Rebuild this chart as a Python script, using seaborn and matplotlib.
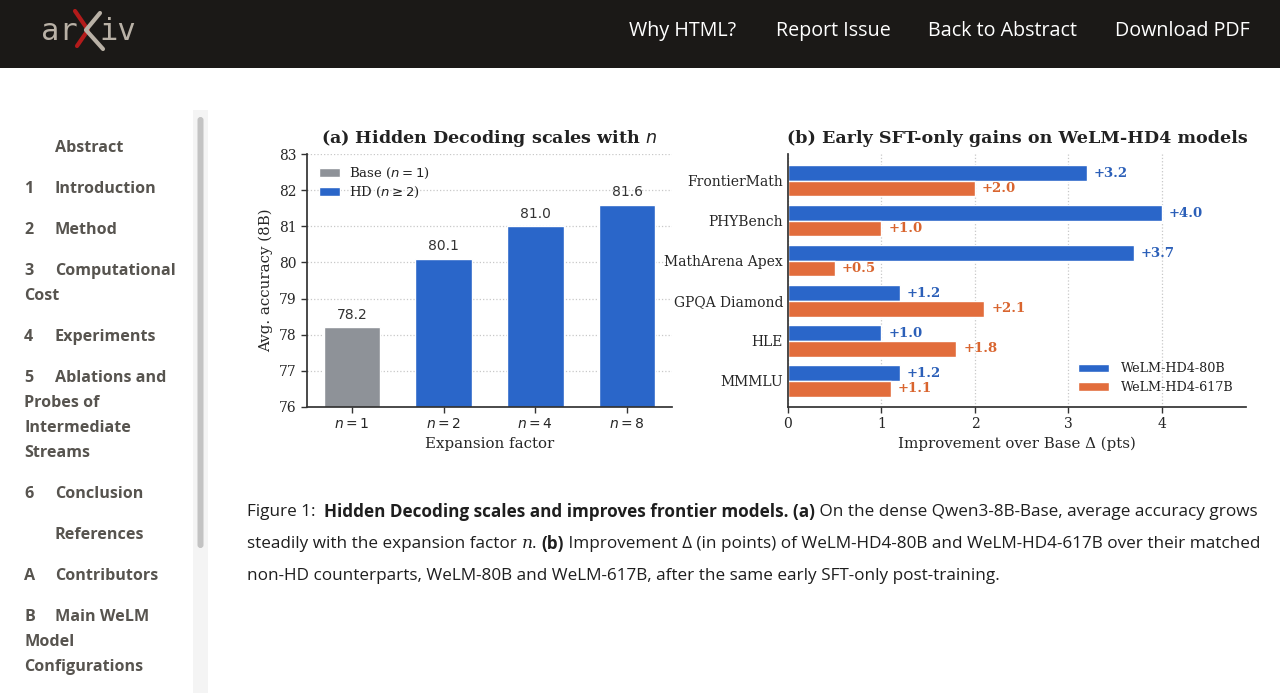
import matplotlib
matplotlib.use("Agg")
import matplotlib.pyplot as plt
from matplotlib.patches import Rectangle, FancyBboxPatch
from matplotlib.font_manager import FontProperties
import pandas as pd
import seaborn as sns

# --- chart (a) data
n_labels = ["$n=1$", "$n=2$", "$n=4$", "$n=8$"]
avg_acc = [78.2, 80.1, 81.0, 81.6]
n_group = ["Base ($n=1$)", "HD ($n\\geq2$)", "HD ($n\\geq2$)", "HD ($n\\geq2$)"]

# --- chart (b) data
benchmarks = ["FrontierMath", "PHYBench", "MathArena Apex", "GPQA Diamond", "HLE", "MMMLU"]
gain_80b = [3.2, 4.0, 3.7, 1.2, 1.0, 1.2]
gain_617b = [2.0, 1.0, 0.5, 2.1, 1.8, 1.1]
models = ["WeLM-HD4-80B", "WeLM-HD4-617B"]

# --- page text
nav_items = ["Why HTML?", "Report Issue", "Back to Abstract", "Download PDF"]
toc_items = [
    ("", ["Abstract"]),
    ("1", ["Introduction"]),
    ("2", ["Method"]),
    ("3", ["Computational", "Cost"]),
    ("4", ["Experiments"]),
    ("5", ["Ablations and", "Probes of", "Intermediate", "Streams"]),
    ("6", ["Conclusion"]),
    ("", ["References"]),
    ("A", ["Contributors"]),
    ("B", ["Main WeLM", "Model", "Configurations"]),
]
caption_lines = [
    [("Figure 1:  ", "normal", "normal"),
     ("Hidden Decoding scales and improves frontier models. (a)", "bold", "normal"),
     (" On the dense Qwen3-8B-Base, average accuracy grows", "normal", "normal")],
    [("steadily with the expansion factor ", "normal", "normal"),
     ("n", "normal", "italic"),
     (". ", "normal", "normal"),
     ("(b)", "bold", "normal"),
     (" Improvement \u0394 (in points) of WeLM-HD4-80B and WeLM-HD4-617B over their matched", "normal", "normal")],
    [("non-HD counterparts, WeLM-80B and WeLM-617B, after the same early SFT-only post-training.", "normal", "normal")],
]

GRAY = "#8e9298"
BLUE = "#2a66c9"
ORANGE = "#e26d3c"
BLUE_TXT = "#2b5fb8"
ORANGE_TXT = "#d9652f"
SPINE = "#333333"
TOC = "#57544f"

sns.set_theme(style="white")
plt.rcParams["font.family"] = ["DejaVu Serif"]
plt.rcParams["mathtext.fontset"] = "dejavusans"
plt.rcParams["axes.edgecolor"] = SPINE
plt.rcParams["text.color"] = "#222222"

W, H = 1280, 693
fig = plt.figure(figsize=(W / 100, H / 100), dpi=100)
fig.patch.set_facecolor("white")


def px_axes(x0, y0, x1, y1):
    return fig.add_axes([x0 / W, 1 - y1 / H, (x1 - x0) / W, (y1 - y0) / H])


# page background layer in pixel coordinates
bg = fig.add_axes([0, 0, 1, 1], zorder=-5)
bg.set_xlim(0, W)
bg.set_ylim(H, 0)
bg.axis("off")

bg.add_patch(Rectangle((0, 0), W, 68, color="#1b1917", lw=0))
bg.text(41, 31, "ar", family="DejaVu Sans Mono", fontsize=22, color="#b9b1a6", va="center", ha="left")
bg.text(99, 31, "iv", family="DejaVu Sans Mono", fontsize=22, color="#b9b1a6", va="center", ha="left")
bg.plot([75, 88, 77], [11, 30, 46], color="#b31b1b", lw=3, solid_capstyle="round")
bg.plot([100, 86, 103], [13, 30, 49], color="#b9b1a6", lw=3, solid_capstyle="round")

nav_x = [629, 776, 928, 1115]
for label, x in zip(nav_items, nav_x):
    bg.text(x, 31, label, family="Open Sans", fontsize=14.2, color="white", va="center", ha="left")

# sidebar
y = 148
for num, lines in toc_items:
    for i, line in enumerate(lines):
        if i == 0:
            if num:
                bg.text(24, y, num, family="Open Sans", fontweight="bold", fontsize=11.6,
                        color=TOC, va="center")
            bg.text(55, y, line, family="Open Sans", fontweight="bold",
                    fontsize=11.6, color=TOC, va="center")
        else:
            bg.text(24, y, line, family="Open Sans", fontweight="bold", fontsize=11.6,
                    color=TOC, va="center")
        y += 25
    y += 16

bg.add_patch(Rectangle((193, 110), 15, H - 110, color="#f4f4f4", lw=0))
bg.add_patch(FancyBboxPatch((197.5, 117), 6, 431, boxstyle="round,pad=0,rounding_size=3",
                            color="#c3c3c3", lw=0))

# caption with mixed bold / italic runs
renderer = fig.canvas.get_renderer()
cap_size = 12.3


def run_width(s, weight, style):
    fam = "DejaVu Serif" if style == "italic" else "Open Sans"
    prop = FontProperties(family=fam, weight=weight, style=style, size=cap_size)
    w, _, _ = renderer.get_text_width_height_descent("x" + s + "x", prop, ismath=False)
    wx, _, _ = renderer.get_text_width_height_descent("xx", prop, ismath=False)
    return w - wx


cap_y = [512, 544, 576]
for runs, cy in zip(caption_lines, cap_y):
    x = 247
    for s, weight, style in runs:
        fam = "DejaVu Serif" if style == "italic" else "Open Sans"
        bg.text(x, cy, s, family=fam, fontweight=weight, fontstyle=style, fontsize=cap_size,
                color="#1e1e1e", va="center", ha="left")
        x += run_width(s, weight, style)

# --- chart (a)
ax1 = px_axes(307, 154, 672, 407)
sns.barplot(x=n_labels, y=avg_acc, hue=n_group, palette=[GRAY, BLUE], dodge=False,
            width=0.62, saturation=1, ax=ax1)
ax1.set_ylim(76, 83)
ax1.set_xlim(-0.49, 3.49)
ax1.set_yticks(range(76, 84))
ax1.grid(axis="y", linestyle=":", color="#c8c8c8", lw=0.9)
ax1.set_axisbelow(True)
for c in ax1.containers:
    ax1.bar_label(c, fmt="%.1f", padding=4, fontsize=10, family="DejaVu Sans", color="#333333")
ax1.set_title("(a) Hidden Decoding scales with $n$", fontsize=12.6, fontweight="bold", pad=8)
ax1.set_xlabel("Expansion factor", fontsize=10.8)
ax1.set_ylabel("Avg. accuracy (8B)", fontsize=10.8)
ax1.tick_params(axis="both", labelsize=10, length=4, width=1, color=SPINE, bottom=True, left=True)
sns.despine(ax=ax1)
ax1.legend(loc="upper left", frameon=False, fontsize=9.5, handlelength=1.6, handletextpad=0.7,
           labelspacing=0.3, borderaxespad=0.5)

# --- chart (b)
df = pd.DataFrame({
    "benchmark": benchmarks * 2,
    "gain": gain_80b + gain_617b,
    "model": [models[0]] * len(benchmarks) + [models[1]] * len(benchmarks),
})
ax2 = px_axes(788, 154, 1246, 407)
sns.barplot(data=df, y="benchmark", x="gain", hue="model", orient="h", width=0.78,
            palette=[BLUE, ORANGE], saturation=1, ax=ax2)
ax2.set_xlim(0, 4.9)
ax2.set_ylim(5.65, -0.67)
ax2.set_xticks(range(0, 5))
ax2.grid(axis="x", linestyle=":", color="#c8c8c8", lw=0.9)
ax2.set_axisbelow(True)
for c, col in zip(ax2.containers, [BLUE_TXT, ORANGE_TXT]):
    ax2.bar_label(c, labels=[f"+{v:.1f}" for v in c.datavalues], padding=5, fontsize=9.5,
                  fontweight="bold", color=col)
ax2.set_title("(b) Early SFT-only gains on WeLM-HD4 models", fontsize=12.6, fontweight="bold", pad=8)
ax2.set_xlabel("Improvement over Base \u0394 (pts)", fontsize=10.8)
ax2.set_ylabel("")
ax2.tick_params(axis="x", labelsize=10, length=4, width=1, color=SPINE, bottom=True)
ax2.tick_params(axis="y", labelsize=10, length=0)
sns.despine(ax=ax2)
ax2.legend(loc="lower right", frameon=False, fontsize=9.2, handlelength=2.4, handletextpad=0.9,
           labelspacing=0.45, borderaxespad=0.6)

fig.savefig("out.png", dpi=100)
